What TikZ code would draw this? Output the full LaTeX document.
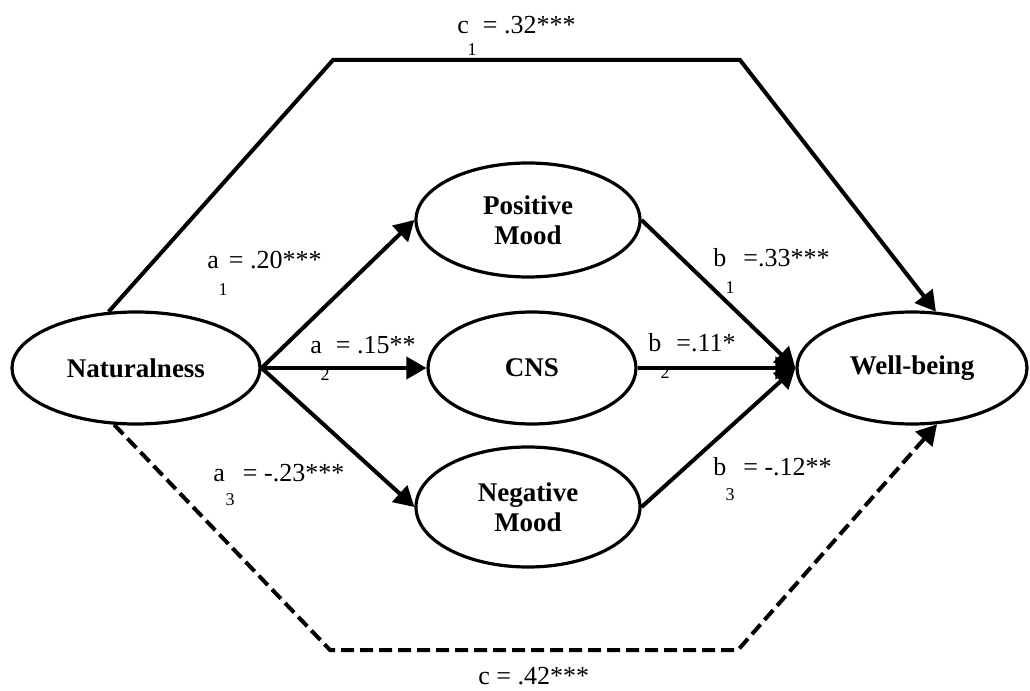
\documentclass[tikz,border=0pt]{standalone}
\usepackage{fontspec}
\setmainfont{Liberation Serif}
\usetikzlibrary{arrows.meta, positioning, shapes.geometric}

\begin{document}
\begin{tikzpicture}[
  x=0.5bp, y=-0.5bp,
  latent/.style={ellipse, draw, line width=1.6bp, minimum height=56bp, inner sep=0pt,
                 font=\fontsize{13.5bp}{15bp}\selectfont\bfseries, align=center},
  effect/.style={line width=2bp, -{Triangle[length=10bp, width=11bp]}},
  lbl/.style={font=\fontsize{13bp}{15bp}\selectfont, inner sep=0pt, anchor=west},
  sub/.style={font=\fontsize{9bp}{10bp}\selectfont, inner sep=0pt}
]
\useasboundingbox (0,0) rectangle (1030,691);

% Variables
\node[latent, minimum width=124bp] (nat) at (136,368) {Naturalness};
\node[latent, minimum width=112bp, minimum height=57bp] (pm) at (528,220) {Positive\\Mood};
\node[latent, minimum width=104bp] (cns) at (532,368) {CNS};
\node[latent, minimum width=112bp, minimum height=60bp] (nm) at (528,507) {Negative\\Mood};
\node[latent, minimum width=115bp] (wb) at (912,368) {Well-being};

% Corners of the direct paths
\coordinate (tl) at (333,60);
\coordinate (tr) at (740,60);
\coordinate (bl) at (330,650);
\coordinate (br) at (738,650);

% Direct effects
\draw[effect] (nat.116) -- (tl) -- (tr) -- (wb.67);
\draw[effect, dash pattern=on 6.5bp off 3bp] (nat.249) -- (bl) -- (br) -- (wb.294);

% Indirect effects
\foreach \m in {pm, cns, nm} {
  \draw[effect] (nat.east) -- (\m.west);
  \draw[effect] (\m.east) -- (wb.west);
}

% Coefficients
\node[lbl] (c1) at (457,25) {c\hspace{7bp}= .32***};
\node[sub] (c1s) at (472,50) {1};
\node[lbl] (a1) at (207,260) {a\hspace{5bp}= .20***};
\node[sub] (a1s) at (223,290) {1};
\node[lbl] (a2) at (310,345) {a\hspace{7bp}= .15**};
\node[sub] (a2s) at (325,375) {2};
\node[lbl] (a3) at (213,473) {a\hspace{9bp}= -.23***};
\node[sub] (a3s) at (230,500) {3};
\node[lbl] (b1) at (713,258) {b\hspace{8.5bp}=.33***};
\node[sub] (b1s) at (730,288) {1};
\node[lbl] (b2) at (648,343) {b\hspace{7.5bp}=.11*};
\node[sub] (b2s) at (665,373) {2};
\node[lbl] (b3) at (713,467) {b\hspace{8.5bp}= -.12**};
\node[sub] (b3s) at (730,495) {3};
\node[lbl] (c2) at (478,676) {c = .42***};
\end{tikzpicture}
\end{document}
